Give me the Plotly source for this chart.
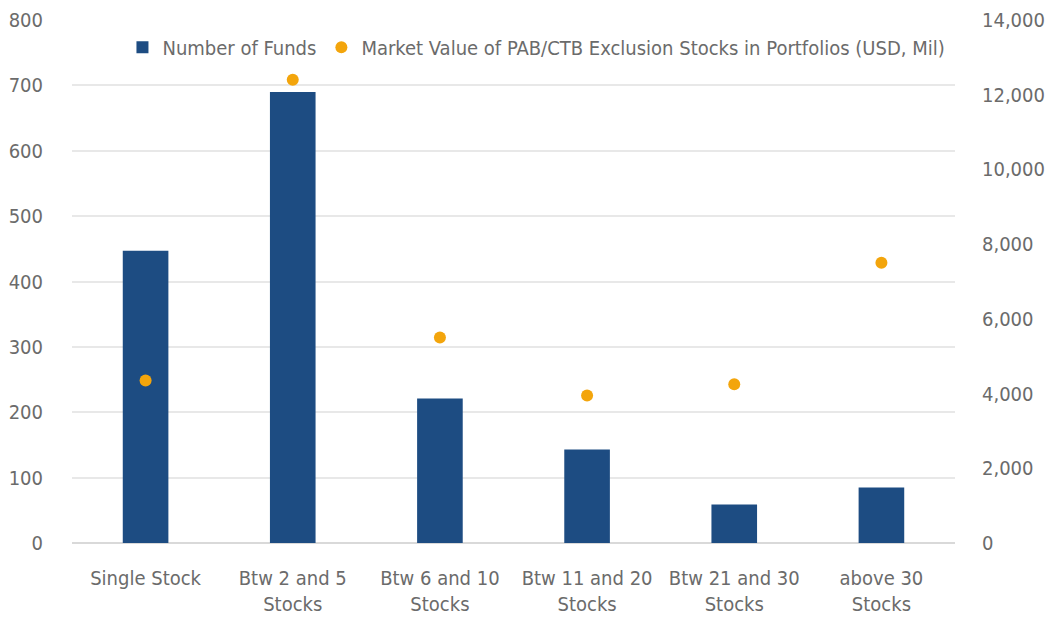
import plotly.graph_objects as go

categories = ["Single Stock", "Btw 2 and 5<br>Stocks", "Btw 6 and 10<br>Stocks",
              "Btw 11 and 20<br>Stocks", "Btw 21 and 30<br>Stocks", "above 30<br>Stocks"]
num_funds = [447, 690, 221, 143, 59, 85]
market_value = [4350, 12400, 5500, 3950, 4250, 7500]

left_ticks = list(range(0, 801, 100))
right_ticks = list(range(0, 14001, 2000))

FONT = "DejaVu Sans Condensed, Liberation Sans Narrow, sans-serif"
TXT = "#6b6b6b"

fig = go.Figure()
fig.add_trace(go.Bar(
    x=categories, y=num_funds, name="Number of Funds",
    marker=dict(color="#1d4c82", line=dict(width=0)), yaxis="y"))
fig.add_trace(go.Scatter(
    x=categories, y=market_value, mode="markers",
    name="Market Value of PAB/CTB Exclusion Stocks in Portfolios (USD, Mil)",
    marker=dict(color="#f3a50c", size=12), yaxis="y2"))

fig.update_layout(
    width=1047, height=625,
    margin=dict(l=72, r=92, t=20, b=82),
    paper_bgcolor="white", plot_bgcolor="white",
    font=dict(family=FONT, size=20, color=TXT),
    bargap=0.69,
    showlegend=True,
    legend=dict(orientation="h", x=0.526, xanchor="center", y=0.948, yanchor="middle",
                font=dict(size=20, color=TXT), bgcolor="rgba(0,0,0,0)",
                itemwidth=30, tracegroupgap=0),
    xaxis=dict(showgrid=False, showline=False, ticks="outside", ticklen=17,
               tickcolor="rgba(0,0,0,0)", tickfont=dict(size=20, color=TXT),
               automargin=False),
    yaxis=dict(range=[0, 800], tickvals=left_ticks, showgrid=True, gridcolor="#e8e8e8",
               gridwidth=1.5, zeroline=True, zerolinecolor="#d9d9d9", zerolinewidth=2,
               showline=False, ticks="outside", ticklen=24, tickcolor="rgba(0,0,0,0)",
               tickfont=dict(size=20, color=TXT), automargin=False),
    yaxis2=dict(range=[0, 14000], tickvals=right_ticks, tickformat=",", overlaying="y",
                side="right", showgrid=False, zeroline=False, showline=False,
                ticks="outside", ticklen=22, tickcolor="rgba(0,0,0,0)",
                tickfont=dict(size=20, color=TXT), automargin=False),
)

fig.write_html("out.html", config={"displayModeBar": False},
               post_script="document.body.style.margin='0';document.body.style.overflow='hidden';")
